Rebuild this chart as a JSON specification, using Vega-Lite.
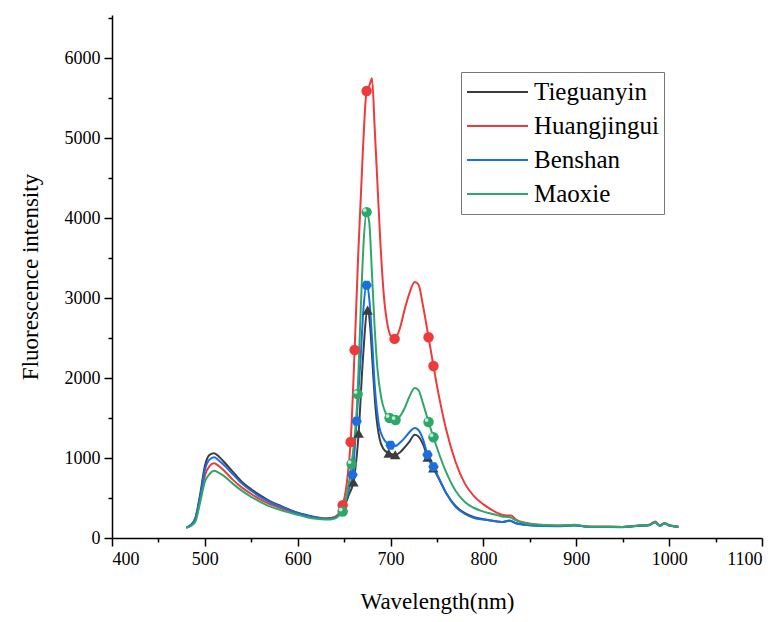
{
  "$schema": "https://vega.github.io/schema/vega-lite/v6.json",
  "width": 650,
  "height": 523,
  "autosize": {"type": "none"},
  "padding": {"left": 112, "top": 15, "right": 22, "bottom": 84},
  "background": "white",
  "config": {
    "view": {"stroke": null},
    "font": "Liberation Serif",
    "axis": {
      "domainColor": "black",
      "domainWidth": 1.5,
      "tickColor": "black",
      "tickWidth": 1.5,
      "grid": false,
      "labelFont": "Liberation Serif",
      "labelFontSize": 18,
      "labelColor": "black",
      "titleFont": "Liberation Serif",
      "titleFontSize": 23,
      "titleFontWeight": "normal",
      "titleColor": "black"
    }
  },
  "datasets": {
    "spectra": [
      {"s":"Tieguanyin","w":480,"v":130},{"s":"Tieguanyin","w":485,"v":160},{"s":"Tieguanyin","w":490,"v":260},{"s":"Tieguanyin","w":495,"v":550},{"s":"Tieguanyin","w":500,"v":900},{"s":"Tieguanyin","w":505,"v":1040},{"s":"Tieguanyin","w":510,"v":1060},{"s":"Tieguanyin","w":515,"v":1020},{"s":"Tieguanyin","w":520,"v":960},{"s":"Tieguanyin","w":530,"v":830},{"s":"Tieguanyin","w":540,"v":700},{"s":"Tieguanyin","w":550,"v":610},{"s":"Tieguanyin","w":560,"v":530},{"s":"Tieguanyin","w":570,"v":460},{"s":"Tieguanyin","w":580,"v":410},{"s":"Tieguanyin","w":590,"v":360},{"s":"Tieguanyin","w":600,"v":315},{"s":"Tieguanyin","w":610,"v":285},{"s":"Tieguanyin","w":620,"v":260},{"s":"Tieguanyin","w":630,"v":245},{"s":"Tieguanyin","w":640,"v":255},{"s":"Tieguanyin","w":645,"v":290},{"s":"Tieguanyin","w":650,"v":380},{"s":"Tieguanyin","w":655,"v":540},{"s":"Tieguanyin","w":660,"v":700},{"s":"Tieguanyin","w":665.6,"v":1310},{"s":"Tieguanyin","w":670,"v":2200},{"s":"Tieguanyin","w":675.3,"v":2850},{"s":"Tieguanyin","w":678,"v":2650},{"s":"Tieguanyin","w":681,"v":2100},{"s":"Tieguanyin","w":684,"v":1600},{"s":"Tieguanyin","w":688,"v":1250},{"s":"Tieguanyin","w":692,"v":1120},{"s":"Tieguanyin","w":698,"v":1060},{"s":"Tieguanyin","w":705,"v":1040},{"s":"Tieguanyin","w":710,"v":1070},{"s":"Tieguanyin","w":715,"v":1130},{"s":"Tieguanyin","w":720,"v":1200},{"s":"Tieguanyin","w":726,"v":1290},{"s":"Tieguanyin","w":730,"v":1270},{"s":"Tieguanyin","w":735,"v":1170},{"s":"Tieguanyin","w":740,"v":1010},{"s":"Tieguanyin","w":746,"v":875},{"s":"Tieguanyin","w":752,"v":740},{"s":"Tieguanyin","w":760,"v":560},{"s":"Tieguanyin","w":770,"v":400},{"s":"Tieguanyin","w":780,"v":310},{"s":"Tieguanyin","w":790,"v":260},{"s":"Tieguanyin","w":800,"v":235},{"s":"Tieguanyin","w":810,"v":215},{"s":"Tieguanyin","w":820,"v":200},{"s":"Tieguanyin","w":828,"v":215},{"s":"Tieguanyin","w":835,"v":185},{"s":"Tieguanyin","w":845,"v":165},{"s":"Tieguanyin","w":860,"v":155},{"s":"Tieguanyin","w":880,"v":150},{"s":"Tieguanyin","w":898,"v":160},{"s":"Tieguanyin","w":910,"v":145},{"s":"Tieguanyin","w":930,"v":140},{"s":"Tieguanyin","w":950,"v":138},{"s":"Tieguanyin","w":960,"v":148},{"s":"Tieguanyin","w":970,"v":155},{"s":"Tieguanyin","w":978,"v":160},{"s":"Tieguanyin","w":985,"v":200},{"s":"Tieguanyin","w":990,"v":155},{"s":"Tieguanyin","w":995,"v":185},{"s":"Tieguanyin","w":1000,"v":160},{"s":"Tieguanyin","w":1005,"v":150},{"s":"Tieguanyin","w":1010,"v":140},

      {"s":"Huangjingui","w":480,"v":130},{"s":"Huangjingui","w":485,"v":160},{"s":"Huangjingui","w":490,"v":240},{"s":"Huangjingui","w":495,"v":500},{"s":"Huangjingui","w":500,"v":780},{"s":"Huangjingui","w":505,"v":900},{"s":"Huangjingui","w":510,"v":935},{"s":"Huangjingui","w":515,"v":900},{"s":"Huangjingui","w":520,"v":850},{"s":"Huangjingui","w":530,"v":730},{"s":"Huangjingui","w":540,"v":630},{"s":"Huangjingui","w":550,"v":550},{"s":"Huangjingui","w":560,"v":480},{"s":"Huangjingui","w":570,"v":425},{"s":"Huangjingui","w":580,"v":380},{"s":"Huangjingui","w":590,"v":340},{"s":"Huangjingui","w":600,"v":300},{"s":"Huangjingui","w":610,"v":270},{"s":"Huangjingui","w":620,"v":250},{"s":"Huangjingui","w":630,"v":240},{"s":"Huangjingui","w":640,"v":265},{"s":"Huangjingui","w":645,"v":320},{"s":"Huangjingui","w":648.4,"v":410},{"s":"Huangjingui","w":653,"v":700},{"s":"Huangjingui","w":657,"v":1200},{"s":"Huangjingui","w":661.3,"v":2350},{"s":"Huangjingui","w":665,"v":3500},{"s":"Huangjingui","w":670,"v":4800},{"s":"Huangjingui","w":674.2,"v":5590},{"s":"Huangjingui","w":677,"v":5650},{"s":"Huangjingui","w":680,"v":5750},{"s":"Huangjingui","w":683,"v":5100},{"s":"Huangjingui","w":686,"v":4400},{"s":"Huangjingui","w":689,"v":3700},{"s":"Huangjingui","w":693,"v":3000},{"s":"Huangjingui","w":697,"v":2650},{"s":"Huangjingui","w":700,"v":2530},{"s":"Huangjingui","w":704.3,"v":2490},{"s":"Huangjingui","w":710,"v":2620},{"s":"Huangjingui","w":715,"v":2850},{"s":"Huangjingui","w":720,"v":3050},{"s":"Huangjingui","w":726,"v":3200},{"s":"Huangjingui","w":730,"v":3170},{"s":"Huangjingui","w":735,"v":2900},{"s":"Huangjingui","w":740.9,"v":2510},{"s":"Huangjingui","w":746.2,"v":2150},{"s":"Huangjingui","w":752,"v":1780},{"s":"Huangjingui","w":760,"v":1350},{"s":"Huangjingui","w":770,"v":950},{"s":"Huangjingui","w":780,"v":680},{"s":"Huangjingui","w":790,"v":520},{"s":"Huangjingui","w":800,"v":420},{"s":"Huangjingui","w":810,"v":345},{"s":"Huangjingui","w":820,"v":290},{"s":"Huangjingui","w":825,"v":280},{"s":"Huangjingui","w":830,"v":280},{"s":"Huangjingui","w":835,"v":230},{"s":"Huangjingui","w":845,"v":190},{"s":"Huangjingui","w":860,"v":165},{"s":"Huangjingui","w":880,"v":155},{"s":"Huangjingui","w":898,"v":162},{"s":"Huangjingui","w":910,"v":145},{"s":"Huangjingui","w":930,"v":140},{"s":"Huangjingui","w":950,"v":138},{"s":"Huangjingui","w":960,"v":148},{"s":"Huangjingui","w":970,"v":158},{"s":"Huangjingui","w":978,"v":165},{"s":"Huangjingui","w":985,"v":205},{"s":"Huangjingui","w":990,"v":155},{"s":"Huangjingui","w":995,"v":185},{"s":"Huangjingui","w":1000,"v":160},{"s":"Huangjingui","w":1005,"v":148},{"s":"Huangjingui","w":1010,"v":140},

      {"s":"Benshan","w":480,"v":130},{"s":"Benshan","w":485,"v":165},{"s":"Benshan","w":490,"v":250},{"s":"Benshan","w":495,"v":520},{"s":"Benshan","w":500,"v":850},{"s":"Benshan","w":505,"v":980},{"s":"Benshan","w":510,"v":1010},{"s":"Benshan","w":515,"v":970},{"s":"Benshan","w":520,"v":920},{"s":"Benshan","w":530,"v":800},{"s":"Benshan","w":540,"v":680},{"s":"Benshan","w":550,"v":590},{"s":"Benshan","w":560,"v":510},{"s":"Benshan","w":570,"v":450},{"s":"Benshan","w":580,"v":400},{"s":"Benshan","w":590,"v":355},{"s":"Benshan","w":600,"v":310},{"s":"Benshan","w":610,"v":280},{"s":"Benshan","w":620,"v":255},{"s":"Benshan","w":630,"v":240},{"s":"Benshan","w":640,"v":255},{"s":"Benshan","w":645,"v":295},{"s":"Benshan","w":650,"v":400},{"s":"Benshan","w":655,"v":600},{"s":"Benshan","w":659,"v":790},{"s":"Benshan","w":663.4,"v":1460},{"s":"Benshan","w":668,"v":2300},{"s":"Benshan","w":671,"v":2900},{"s":"Benshan","w":674.2,"v":3160},{"s":"Benshan","w":677,"v":3000},{"s":"Benshan","w":680,"v":2500},{"s":"Benshan","w":683,"v":1900},{"s":"Benshan","w":687,"v":1450},{"s":"Benshan","w":692,"v":1250},{"s":"Benshan","w":700,"v":1160},{"s":"Benshan","w":705,"v":1150},{"s":"Benshan","w":710,"v":1190},{"s":"Benshan","w":715,"v":1250},{"s":"Benshan","w":720,"v":1320},{"s":"Benshan","w":726,"v":1375},{"s":"Benshan","w":730,"v":1350},{"s":"Benshan","w":735,"v":1230},{"s":"Benshan","w":739.8,"v":1040},{"s":"Benshan","w":746.2,"v":890},{"s":"Benshan","w":752,"v":750},{"s":"Benshan","w":760,"v":560},{"s":"Benshan","w":770,"v":390},{"s":"Benshan","w":780,"v":300},{"s":"Benshan","w":790,"v":250},{"s":"Benshan","w":800,"v":230},{"s":"Benshan","w":810,"v":215},{"s":"Benshan","w":820,"v":200},{"s":"Benshan","w":828,"v":220},{"s":"Benshan","w":835,"v":185},{"s":"Benshan","w":845,"v":165},{"s":"Benshan","w":860,"v":150},{"s":"Benshan","w":880,"v":148},{"s":"Benshan","w":898,"v":155},{"s":"Benshan","w":910,"v":142},{"s":"Benshan","w":930,"v":138},{"s":"Benshan","w":950,"v":135},{"s":"Benshan","w":960,"v":145},{"s":"Benshan","w":970,"v":152},{"s":"Benshan","w":978,"v":158},{"s":"Benshan","w":985,"v":195},{"s":"Benshan","w":990,"v":150},{"s":"Benshan","w":995,"v":180},{"s":"Benshan","w":1000,"v":155},{"s":"Benshan","w":1005,"v":145},{"s":"Benshan","w":1010,"v":138},

      {"s":"Maoxie","w":480,"v":130},{"s":"Maoxie","w":485,"v":150},{"s":"Maoxie","w":490,"v":210},{"s":"Maoxie","w":495,"v":450},{"s":"Maoxie","w":500,"v":700},{"s":"Maoxie","w":505,"v":800},{"s":"Maoxie","w":510,"v":840},{"s":"Maoxie","w":515,"v":815},{"s":"Maoxie","w":520,"v":780},{"s":"Maoxie","w":530,"v":680},{"s":"Maoxie","w":540,"v":590},{"s":"Maoxie","w":550,"v":515},{"s":"Maoxie","w":560,"v":450},{"s":"Maoxie","w":570,"v":395},{"s":"Maoxie","w":580,"v":355},{"s":"Maoxie","w":590,"v":320},{"s":"Maoxie","w":600,"v":290},{"s":"Maoxie","w":610,"v":260},{"s":"Maoxie","w":620,"v":240},{"s":"Maoxie","w":630,"v":230},{"s":"Maoxie","w":640,"v":245},{"s":"Maoxie","w":645,"v":285},{"s":"Maoxie","w":648.4,"v":330},{"s":"Maoxie","w":653,"v":550},{"s":"Maoxie","w":658,"v":925},{"s":"Maoxie","w":664.5,"v":1800},{"s":"Maoxie","w":668,"v":2900},{"s":"Maoxie","w":671,"v":3700},{"s":"Maoxie","w":674.2,"v":4075},{"s":"Maoxie","w":677,"v":3950},{"s":"Maoxie","w":680,"v":3300},{"s":"Maoxie","w":683,"v":2600},{"s":"Maoxie","w":686,"v":2100},{"s":"Maoxie","w":690,"v":1750},{"s":"Maoxie","w":694,"v":1580},{"s":"Maoxie","w":698.9,"v":1500},{"s":"Maoxie","w":705.4,"v":1475},{"s":"Maoxie","w":710,"v":1520},{"s":"Maoxie","w":715,"v":1620},{"s":"Maoxie","w":720,"v":1760},{"s":"Maoxie","w":726,"v":1875},{"s":"Maoxie","w":730,"v":1850},{"s":"Maoxie","w":735,"v":1680},{"s":"Maoxie","w":740.9,"v":1450},{"s":"Maoxie","w":746.2,"v":1260},{"s":"Maoxie","w":752,"v":1060},{"s":"Maoxie","w":760,"v":820},{"s":"Maoxie","w":770,"v":590},{"s":"Maoxie","w":780,"v":450},{"s":"Maoxie","w":790,"v":375},{"s":"Maoxie","w":800,"v":330},{"s":"Maoxie","w":810,"v":300},{"s":"Maoxie","w":820,"v":270},{"s":"Maoxie","w":828,"v":262},{"s":"Maoxie","w":835,"v":220},{"s":"Maoxie","w":845,"v":185},{"s":"Maoxie","w":860,"v":165},{"s":"Maoxie","w":880,"v":155},{"s":"Maoxie","w":898,"v":165},{"s":"Maoxie","w":910,"v":145},{"s":"Maoxie","w":930,"v":140},{"s":"Maoxie","w":950,"v":138},{"s":"Maoxie","w":960,"v":148},{"s":"Maoxie","w":970,"v":158},{"s":"Maoxie","w":978,"v":163},{"s":"Maoxie","w":985,"v":200},{"s":"Maoxie","w":990,"v":152},{"s":"Maoxie","w":995,"v":183},{"s":"Maoxie","w":1000,"v":158},{"s":"Maoxie","w":1005,"v":147},{"s":"Maoxie","w":1010,"v":140}
    ],
    "markers": [
      {"series":"Tieguanyin","w":660,"v":700},{"series":"Tieguanyin","w":665.6,"v":1310},{"series":"Tieguanyin","w":675.3,"v":2850},{"series":"Tieguanyin","w":698,"v":1060},{"series":"Tieguanyin","w":705,"v":1040},{"series":"Tieguanyin","w":740,"v":1010},{"series":"Tieguanyin","w":746,"v":875},
      {"series":"Huangjingui","w":648.4,"v":410},{"series":"Huangjingui","w":657,"v":1200},{"series":"Huangjingui","w":661.3,"v":2350},{"series":"Huangjingui","w":674.2,"v":5590},{"series":"Huangjingui","w":704.3,"v":2490},{"series":"Huangjingui","w":740.9,"v":2510},{"series":"Huangjingui","w":746.2,"v":2150},
      {"series":"Benshan","w":659,"v":790},{"series":"Benshan","w":663.4,"v":1460},{"series":"Benshan","w":674.2,"v":3160},{"series":"Benshan","w":700,"v":1160},{"series":"Benshan","w":739.8,"v":1040},{"series":"Benshan","w":746.2,"v":890},
      {"series":"Maoxie","w":648.4,"v":330},{"series":"Maoxie","w":658,"v":925},{"series":"Maoxie","w":664.5,"v":1800},{"series":"Maoxie","w":674.2,"v":4075},{"series":"Maoxie","w":698.9,"v":1500},{"series":"Maoxie","w":705.4,"v":1475},{"series":"Maoxie","w":740.9,"v":1450},{"series":"Maoxie","w":746.2,"v":1260}
    ]
  },
  "encoding": {
    "x": {
      "field": "w", "type": "quantitative",
      "scale": {"domain": [400, 1100], "nice": false, "zero": false},
      "axis": {
        "title": "Wavelength(nm)",
        "values": [400,450,500,550,600,650,700,750,800,850,900,950,1000,1050,1100],
        "format": "d",
        "labelExpr": "datum.value % 100 === 0 ? datum.label : ''",
        "labelFont": "Liberation Serif",
        "labelFontSize": 18,
        "tickSize": {"condition": {"test": "datum.value % 100 === 0", "value": 8}, "value": 4},
        "labelPadding": 4,
        "titlePadding": 22
      }
    },
    "y": {
      "field": "v", "type": "quantitative",
      "scale": {"domain": [0, 6540], "nice": false},
      "axis": {
        "title": "Fluorescence intensity",
        "values": [0,500,1000,1500,2000,2500,3000,3500,4000,4500,5000,5500,6000,6500],
        "labelExpr": "datum.value % 1000 === 0 ? datum.label : ''",
        "format": "d",
        "labelFont": "Liberation Serif",
        "labelFontSize": 18,
        "tickSize": {"condition": {"test": "datum.value % 1000 === 0", "value": 8}, "value": 4},
        "labelPadding": 4,
        "titlePadding": 22
      }
    }
  },
  "layer": [
    {
      "data": {"name": "spectra"},
      "mark": {"type": "line", "strokeWidth": 2, "interpolate": "monotone"},
      "encoding": {
        "color": {
          "field": "s", "type": "nominal",
          "scale": {"domain": ["Tieguanyin","Huangjingui","Benshan","Maoxie"], "range": ["#3d3d3d","#ee3a3a","#1a6fe0","#2ea86a"]},
          "legend": {
            "title": null,
            "orient": "none",
            "legendX": 349,
            "legendY": 57,
            "direction": "vertical",
            "symbolType": "stroke",
            "symbolSize": 3721,
            "symbolStrokeWidth": 2,
            "clipHeight": 30,
            "labelFont": "Liberation Serif",
            "labelFontSize": 25,
            "labelColor": "black",
            "labelOffset": 5,
            "rowPadding": 4,
            "strokeColor": "#777777",
            "padding": 5,
            "fillColor": "white"
          }
        }
      }
    },
    {
      "data": {"name": "markers"},
      "transform": [{"filter": "datum.series === 'Tieguanyin'"}],
      "mark": {"type": "point", "filled": true, "size": 110, "opacity": 1, "shape": "triangle-up", "color": "#3d3d3d"}
    },
    {
      "data": {"name": "markers"},
      "transform": [{"filter": "datum.series === 'Huangjingui'"}],
      "mark": {"type": "point", "filled": true, "size": 110, "opacity": 1, "shape": "circle", "color": "#ee3a3a"}
    },
    {
      "data": {"name": "markers"},
      "transform": [{"filter": "datum.series === 'Benshan'"}],
      "mark": {"type": "point", "filled": true, "size": 110, "opacity": 1, "shape": "M-1,0L-0.5,-0.866L0.5,-0.866L1,0L0.5,0.866L-0.5,0.866Z", "color": "#1a6fe0"}
    },
    {
      "data": {"name": "markers"},
      "transform": [{"filter": "datum.series === 'Maoxie'"}],
      "mark": {"type": "point", "filled": true, "size": 110, "opacity": 1, "shape": "circle", "color": "#2ea86a"}
    },
    {
      "data": {"name": "markers"},
      "transform": [{"filter": "datum.series === 'Maoxie'"}],
      "mark": {"type": "point", "filled": true, "size": 14, "color": "white", "opacity": 0.75, "xOffset": -2, "yOffset": -2}
    }
  ]
}
